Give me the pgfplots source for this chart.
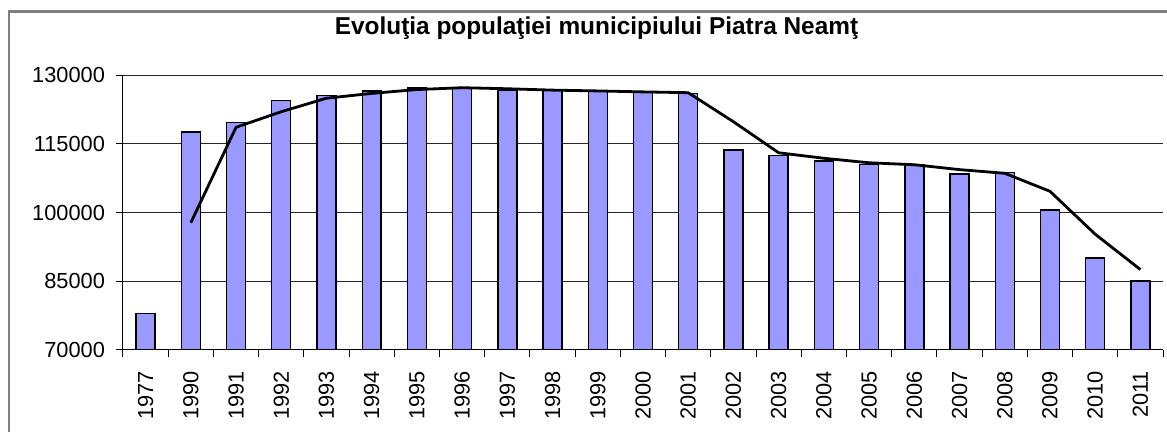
\documentclass[border=0pt]{standalone}
\usepackage{pgfplots}
\pgfplotsset{compat=1.18}
\usepackage{fontspec}
\setmainfont{Liberation Sans}
\definecolor{barblue}{HTML}{9999FF}
\definecolor{frame}{HTML}{808080}
\begin{document}
\begin{tikzpicture}
\clip (0,0) rectangle (583.5pt,216pt);
\useasboundingbox (0,0) rectangle (583.5pt,216pt);
\draw[frame, line width=1.35pt] (4.5pt,-20pt) rectangle (620pt,210.35pt);
\node[anchor=base, inner sep=0pt, font=\fontsize{12.2}{14}\selectfont\bfseries] at (298.25pt,198.85pt) {Evoluţia populaţiei municipiului Piatra Neamţ};
\begin{axis}[
  at={(61.5pt,41pt)}, anchor=south west,
  scale only axis, width=520pt, height=137.5pt,
  xmin=-0.5, xmax=22.5, ymin=70000, ymax=130000,
  ytick={70000,85000,100000,115000,130000},
  xtick={0,...,22},
  xticklabels={1977,1990,1991,1992,1993,1994,1995,1996,1997,1998,1999,2000,2001,2002,2003,2004,2005,2006,2007,2008,2009,2010,2011},
  minor xtick={-0.5,0.5,...,22.5},
  major x tick style={draw=none},
  minor x tick style={black, line width=0.5pt},
  y tick style={black, line width=0.5pt},
  tick align=outside, major tick length=3.5pt, minor tick length=3.5pt,
  axis x line*=bottom, axis y line*=left,
  axis line style={black, line width=0.5pt},
  ymajorgrids, grid style={black!85, line width=0.5pt},
  scaled y ticks=false,
  yticklabel style={/pgf/number format/.cd, fixed, 1000 sep={}},
  /pgf/number format/assume math mode=true,
  ticklabel style={font=\fontsize{10.9}{12}\selectfont},
  xticklabel style={rotate=90, anchor=east},
  xticklabel shift=3.5pt,
  yticklabel shift=2pt,
  clip=true,
]
\addplot[ybar, bar width=0.42, fill=barblue, draw=black, line width=0.7pt] coordinates {
(0,77950) (1,117600) (2,119580) (3,124400) (4,125470) (5,126500) (6,127150) (7,127300) (8,126700) (9,126700) (10,126350) (11,126280) (12,126000) (13,113600) (14,112460) (15,111200) (16,110500) (17,110340) (18,108370) (19,108740) (20,100510) (21,90030) (22,85070)
};
\addplot[black, line width=1.4pt, mark=none] coordinates {
(1,97775) (2,118590) (3,121990) (4,124935) (5,125985) (6,126825) (7,127225) (8,127000) (9,126700) (10,126525) (11,126315) (12,126140) (13,119800) (14,113030) (15,111830) (16,110850) (17,110420) (18,109355) (19,108555) (20,104625) (21,95270) (22,87550)
};
\end{axis}
\end{tikzpicture}
\end{document}
